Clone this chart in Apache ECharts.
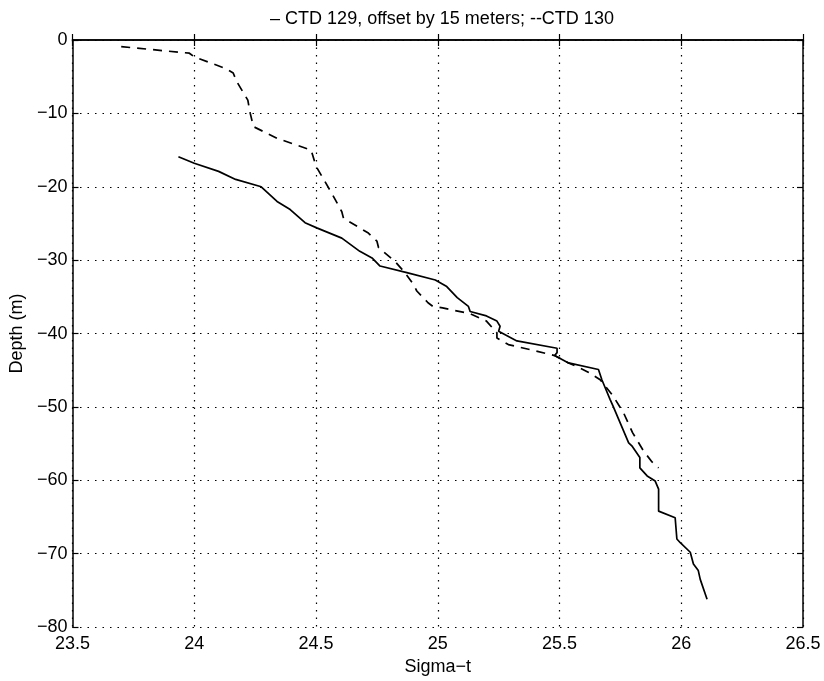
<!DOCTYPE html>
<html><head><meta charset="utf-8">
<script src="https://cdn.jsdelivr.net/npm/echarts@6/dist/echarts.min.js"></script>
<style>html,body{margin:0;padding:0;background:#fff}#c{width:824px;height:681px}</style>
</head><body><div id="c"></div>
<script>
// Sigma-t vs depth profiles
const ctd130 = [[23.70,-0.9],[23.98,-1.8],[24.00,-2.3],[24.13,-3.9],[24.16,-4.5],[24.175,-5.7],[24.22,-8.2],[24.23,-10],[24.243,-11.8],[24.34,-13.4],[24.48,-15.0],[24.50,-17.2],[24.565,-20.9],[24.606,-23.4],[24.613,-24.3],[24.715,-26.3],[24.75,-27.4],[24.757,-28.3],[24.825,-30.2],[24.86,-31.5],[24.90,-33.3],[24.914,-34.2],[24.96,-35.8],[24.98,-36.3],[25.02,-36.5],[25.133,-37.3],[25.20,-38.3],[25.243,-39.9],[25.243,-40.6],[25.29,-41.5],[25.38,-42.2],[25.48,-43.0],[25.537,-44.0],[25.585,-44.7],[25.62,-45.3],[25.667,-46.3],[25.72,-48.5],[25.763,-50.8],[25.80,-53.5],[25.845,-56.0],[25.88,-57.5],[25.907,-58.3]];
const ctd129 = [[23.935,-15.9],[24.0,-16.8],[24.10,-17.9],[24.17,-19.0],[24.275,-20.0],[24.34,-22.0],[24.394,-23.1],[24.455,-24.9],[24.503,-25.6],[24.606,-27.0],[24.68,-28.8],[24.73,-29.7],[24.763,-30.8],[24.873,-31.7],[24.99,-32.7],[25.037,-33.6],[25.08,-35.1],[25.126,-36.3],[25.133,-37.0],[25.20,-37.6],[25.243,-38.3],[25.256,-39.0],[25.25,-39.7],[25.243,-39.9],[25.325,-41.0],[25.49,-42.0],[25.49,-42.6],[25.48,-43.0],[25.537,-44.0],[25.66,-44.9],[25.674,-46.3],[25.708,-49.0],[25.72,-49.9],[25.784,-54.9],[25.797,-55.3],[25.83,-56.9],[25.83,-58.3],[25.86,-59.4],[25.893,-60.1],[25.907,-61.2],[25.907,-64.2],[25.975,-65.1],[25.982,-68.0],[25.996,-68.5],[26.037,-69.8],[26.05,-71.4],[26.07,-72.3],[26.078,-73.5],[26.106,-76.2]];
const xTicks = {min:23.5, max:26.5, interval:0.5};
const yTicks = {min:-80, max:0, interval:10};
const titleText = '\u2013 CTD 129, offset by 15 meters; --CTD 130';
const xName = 'Sigma\u2212t';
const yName = 'Depth (m)';

const font = 'Liberation Sans, Arial, Helvetica, sans-serif';
const chart = echarts.init(document.getElementById('c'), null, {renderer:'canvas'});
const axisLine = {show:true, lineStyle:{color:'#000', width:1.5}};
const splitLine = {show:true, lineStyle:{color:'#000', type:[1.5,6], width:1.2}};
const tick = {show:true, inside:true, length:6, lineStyle:{color:'#000', width:1.2}};
const fmt = v => String(v).replace('-', '\u2212');
chart.setOption({
  animation:false,
  backgroundColor:'#fff',
  title:{text:titleText, left:437, top:5, textAlign:'center',
    textStyle:{fontFamily:font, fontSize:18, fontWeight:'normal', color:'#000'}},
  grid:{left:72.5, right:21, top:40, bottom:53},
  xAxis:[
    {type:'value', min:xTicks.min, max:xTicks.max, interval:xTicks.interval, position:'bottom',
     name:xName, nameLocation:'middle', nameGap:24,
     nameTextStyle:{fontFamily:font, fontSize:18, color:'#000'},
     axisLine, axisTick:tick, splitLine,
     axisLabel:{fontFamily:font, fontSize:18, color:'#000', margin:8, formatter:fmt}},
    {type:'value', min:xTicks.min, max:xTicks.max, interval:xTicks.interval, position:'top',
     axisLine, axisTick:tick, splitLine:{show:false}, axisLabel:{show:false}}
  ],
  yAxis:[
    {type:'value', min:yTicks.min, max:yTicks.max, interval:yTicks.interval, position:'left',
     name:yName, nameLocation:'middle', nameGap:39, nameRotate:90,
     nameTextStyle:{fontFamily:font, fontSize:18, color:'#000'},
     axisLine, axisTick:tick, splitLine,
     axisLabel:{fontFamily:font, fontSize:18, color:'#000', margin:5, formatter:fmt}},
    {type:'value', min:yTicks.min, max:yTicks.max, interval:yTicks.interval, position:'right',
     axisLine, axisTick:tick, splitLine:{show:false}, axisLabel:{show:false}}
  ],
  series:[
    {name:'CTD 129', type:'line', data:ctd129, showSymbol:false, symbol:'none',
     lineStyle:{color:'#000', width:1.7, type:'solid'}, xAxisIndex:0, yAxisIndex:0},
    {name:'CTD 130', type:'line', data:ctd130, showSymbol:false, symbol:'none',
     lineStyle:{color:'#000', width:1.7, type:[9,7]}, xAxisIndex:0, yAxisIndex:0}
  ]
});
</script></body></html>
